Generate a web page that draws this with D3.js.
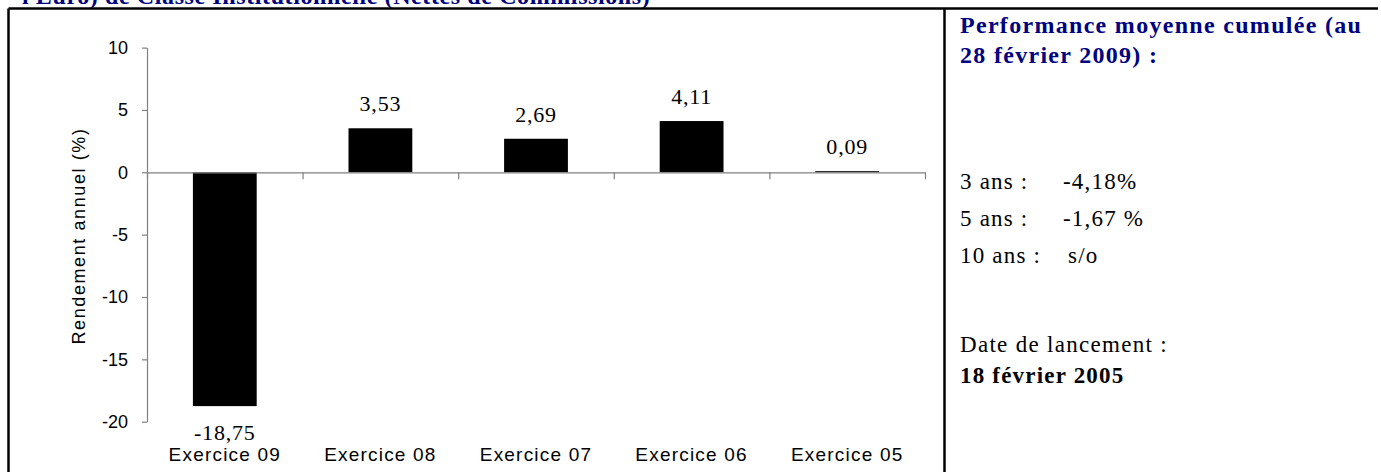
<!DOCTYPE html>
<html>
<head>
<meta charset="utf-8">
<script src="https://cdn.jsdelivr.net/npm/d3@7"></script>
<style>
  body { margin: 0; background: #fff; }
  svg { display: block; }
</style>
</head>
<body>
<script>
var width = 1381, height = 472;

// valeurs
var categories = ["Exercice 09", "Exercice 08", "Exercice 07", "Exercice 06", "Exercice 05"];
var rendements = [-18.75, 3.53, 2.69, 4.11, 0.09];
var yTicks = [10, 5, 0, -5, -10, -15, -20];

var perfLabels = ["3 ans :", "5 ans :", "10 ans :"];
var perfValues = ["-4,18%", "-1,67 %", "s/o"];
var titreHaut = "l Euro) de Classe Institutionnelle (Nettes de Commissions)";
var titrePerf = ["Performance moyenne cumulée (au", "28 février 2009) :"];
var lancement = ["Date de lancement :", "18 février 2005"];

var svg = d3.select("body").append("svg")
    .attr("width", width)
    .attr("height", height);

var serif = "'Liberation Serif', 'Times New Roman', serif";
var sans = "'Liberation Sans', Arial, sans-serif";

// titre coupé en haut (comme sur l'original)
svg.append("text")
    .attr("x", 22).attr("y", 4)
    .style("font-family", serif).style("font-weight", "bold")
    .style("font-size", "24px").style("fill", "#000080")
    .style("letter-spacing", "0.6px")
    .text(titreHaut);

// cadre
svg.append("line").attr("x1", 8.5).attr("x2", 1378).attr("y1", 8.5).attr("y2", 8.5)
    .attr("stroke", "#000").attr("stroke-width", 2.5);
svg.append("line").attr("x1", 8.5).attr("x2", 8.5).attr("y1", 8.5).attr("y2", height)
    .attr("stroke", "#000").attr("stroke-width", 2.5);
svg.append("line").attr("x1", 944.5).attr("x2", 944.5).attr("y1", 8.5).attr("y2", height)
    .attr("stroke", "#000").attr("stroke-width", 2.5);

// echelles
var x = d3.scaleBand()
    .domain(categories)
    .range([147, 925])
    .paddingInner(0.59)
    .paddingOuter(0.295);

var xi = d3.scaleLinear().domain([0, categories.length]).range([147, 925]);

var y = d3.scaleLinear().domain([-20, 10]).range([421.7, 47.6]);

var g = svg.append("g");

// barres
g.selectAll("rect.bar")
    .data(rendements)
    .enter().append("rect")
    .attr("class", "bar")
    .attr("x", function (d, i) { return x(categories[i]); })
    .attr("width", x.bandwidth())
    .attr("y", function (d) { return y(Math.max(0, d)); })
    .attr("height", function (d) { return Math.abs(y(d) - y(0)); })
    .attr("fill", "#000");

// axe y
var yAxis = g.append("g")
    .attr("transform", "translate(147,0)")
    .call(d3.axisLeft(y).tickValues(yTicks).tickSize(5).tickSizeOuter(0).tickPadding(14)
        .tickFormat(function (d) { return String(d); }));
yAxis.selectAll("path, line").attr("stroke", "#808080").attr("stroke-width", 1.2);
yAxis.selectAll("text")
    .style("font-family", sans).style("font-size", "18px").style("fill", "#000");

// axe x (graduations entre les categories)
var xAxis = g.append("g")
    .attr("transform", "translate(0," + y(0) + ")")
    .call(d3.axisBottom(xi).ticks(categories.length).tickSize(7).tickSizeOuter(0).tickFormat(""));
xAxis.selectAll("path, line").attr("stroke", "#808080").attr("stroke-width", 1.2);

// etiquettes des categories
g.selectAll("text.cat")
    .data(categories)
    .enter().append("text")
    .attr("class", "cat")
    .attr("x", function (d) { return x(d) + x.bandwidth() / 2; })
    .attr("y", 461)
    .attr("text-anchor", "middle")
    .style("font-family", sans).style("font-size", "19px")
    .style("letter-spacing", "1.2px")
    .text(function (d) { return d; });

// etiquettes des valeurs
var fmt = d3.format(".2f");
g.selectAll("text.val")
    .data(rendements)
    .enter().append("text")
    .attr("class", "val")
    .attr("x", function (d, i) { return x(categories[i]) + x.bandwidth() / 2; })
    .attr("y", function (d) { return d >= 0 ? y(d) - 17 : y(d) + 34; })
    .attr("text-anchor", "middle")
    .style("font-family", serif).style("font-size", "22px")
    .style("letter-spacing", "0.8px")
    .text(function (d) { return fmt(d).replace(".", ",").replace("−", "-"); });

// titre de l'axe y
g.append("text")
    .attr("transform", "translate(85,236) rotate(-90)")
    .attr("text-anchor", "middle")
    .style("font-family", sans).style("font-size", "18px")
    .style("letter-spacing", "1.6px")
    .text("Rendement annuel (%)");

// panneau de droite
var p = svg.append("g");
p.selectAll("text.tp")
    .data(titrePerf)
    .enter().append("text")
    .attr("class", "tp")
    .attr("x", 960)
    .attr("y", function (d, i) { return 33 + i * 30; })
    .style("font-family", serif).style("font-weight", "bold")
    .style("font-size", "24px").style("fill", "#000080")
    .style("letter-spacing", "1.3px")
    .text(function (d) { return d; });

var perfY = [189, 226, 263];
p.selectAll("text.pl")
    .data(perfLabels)
    .enter().append("text")
    .attr("class", "pl")
    .attr("x", 960)
    .attr("y", function (d, i) { return perfY[i]; })
    .style("font-family", serif).style("font-size", "23px")
    .style("letter-spacing", "1.2px")
    .text(function (d) { return d; });

p.selectAll("text.pv")
    .data(perfValues)
    .enter().append("text")
    .attr("class", "pv")
    .attr("x", function (d, i) { return i == 2 ? 1068 : 1063; })
    .attr("y", function (d, i) { return perfY[i]; })
    .style("font-family", serif).style("font-size", "23px")
    .style("letter-spacing", "1.2px")
    .text(function (d) { return d; });

p.append("text")
    .attr("x", 960).attr("y", 352)
    .style("font-family", serif).style("font-size", "23px")
    .style("letter-spacing", "1.3px")
    .text(lancement[0]);

p.append("text")
    .attr("x", 960).attr("y", 383)
    .style("font-family", serif).style("font-weight", "bold").style("font-size", "23px")
    .style("letter-spacing", "1.2px")
    .text(lancement[1]);
</script>
</body>
</html>
